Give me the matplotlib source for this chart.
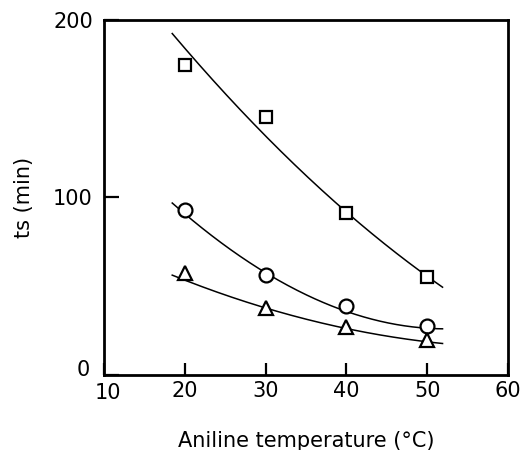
import numpy as np
import matplotlib
matplotlib.use("Agg")
from matplotlib import pyplot as plt
from matplotlib.transforms import ScaledTranslation

# measured points
temp = [20, 30, 40, 50]
ts_square = [174.6, 145.5, 91.4, 55.0]
ts_circle = [93.0, 56.3, 38.9, 27.6]
ts_triangle = [57.3, 37.6, 26.9, 19.7]

# readings along the drawn trend curves
sq_cx = [18.45, 30, 34.3, 40, 50, 51.9]
sq_cy = [191.9, 137, 113.6, 91.5, 55.5, 49.8]
ci_cx = [18.45, 19.8, 30.1, 36.1, 48.8, 51.8]
ci_cy = [95.8, 93.0, 56.3, 43.8, 26.3, 26.3]
tr_cx = [18.45, 30.1, 36.1, 48.7, 51.8]
tr_cy = [56.3, 37.6, 30.0, 20.1, 17.3]

plt.rcParams['font.family'] = ['DejaVu Sans']

fig = plt.figure(figsize=(5.25, 4.5), dpi=100)
ax = fig.add_axes([0.198, 0.1667, 0.7696, 0.7889])

xs = np.linspace(18.45, 51.9, 200)
for cx, cy, deg in [(sq_cx, sq_cy, 2), (ci_cx, ci_cy, 3), (tr_cx, tr_cy, 2)]:
	coef = np.polyfit(cx, cy, deg)
	ax.plot(xs, np.polyval(coef, xs), color='black', lw=1.1, zorder=2)

ax.plot(temp, ts_square, ls='none', marker='s', ms=8, mfc='white', mec='black', mew=1.6, zorder=3)
ax.plot(temp, ts_circle, ls='none', marker='o', ms=10, mfc='white', mec='black', mew=1.6, zorder=3)
ax.plot(temp, ts_triangle, ls='none', marker='^', ms=10.5, mfc='white', mec='black', mew=1.6, zorder=3)

ax.set_xlim(10, 60)
ax.set_ylim(0, 200)
ax.set_xticks([10, 20, 30, 40, 50, 60])
ax.set_yticks([0, 100, 200])
ax.tick_params(direction='in', width=1.6, labelsize=15)
ax.tick_params(axis='x', length=9, pad=4)
ax.tick_params(axis='y', length=11, pad=8)
for s in ax.spines.values():
	s.set_linewidth(2)

fig.canvas.draw()
# corner labels sit apart like in the original
xl0 = ax.get_xticklabels()[0]
xl0.set_transform(xl0.get_transform() + ScaledTranslation(3/72, -2/72, fig.dpi_scale_trans))
yl0 = ax.get_yticklabels()[0]
yl0.set_transform(yl0.get_transform() + ScaledTranslation(-2/72, 5/72, fig.dpi_scale_trans))

ax.set_xlabel('Aniline temperature (°C)', fontsize=15, labelpad=20)
ax.set_ylabel('ts (min)', fontsize=15, labelpad=14)

plt.savefig('out.png', dpi=100)
